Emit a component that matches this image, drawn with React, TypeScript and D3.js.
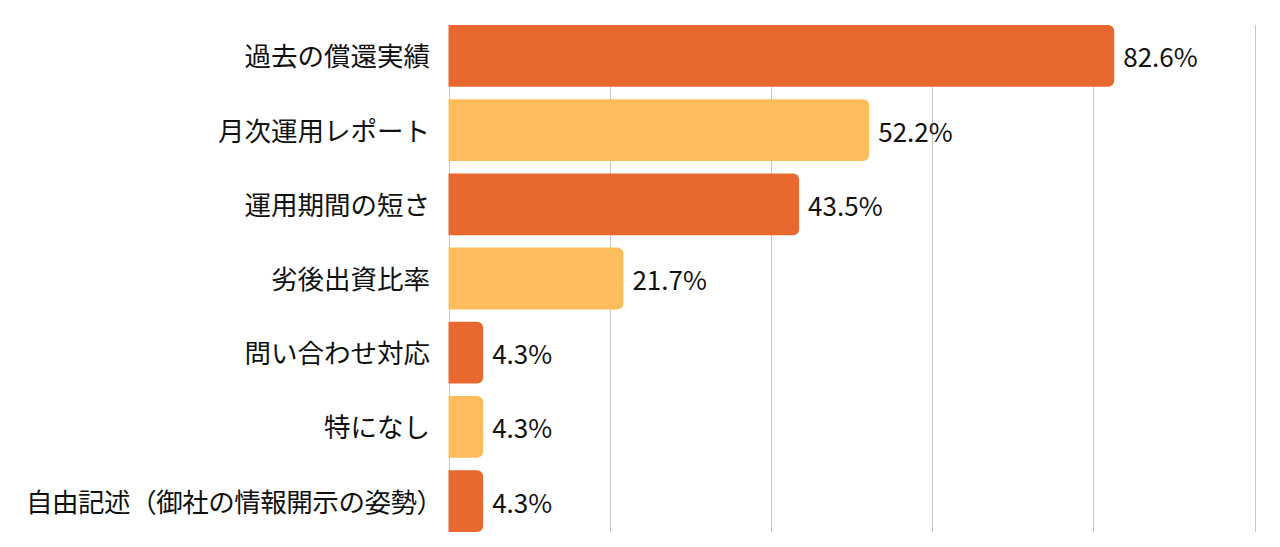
import React from "react";
import * as d3 from "d3";

const categories = [
  "過去の償還実績",
  "月次運用レポート",
  "運用期間の短さ",
  "劣後出資比率",
  "問い合わせ対応",
  "特になし",
  "自由記述（御社の情報開示の姿勢）",
];
const values = [82.6, 52.2, 43.5, 21.7, 4.3, 4.3, 4.3];
const xTicks = [0, 20, 40, 60, 80, 100];
const colors = ["#E9682F", "#FEBC5A"];

const W = 1280;
const H = 547;
const FONT = "'Noto Sans CJK JP', 'Noto Sans', sans-serif";

function barPath(x0: number, y: number, w: number, h: number, r: number) {
  const rr = Math.min(r, w / 2, h / 2);
  const p = d3.path();
  p.moveTo(x0, y);
  p.lineTo(x0 + w - rr, y);
  p.arcTo(x0 + w, y, x0 + w, y + rr, rr);
  p.lineTo(x0 + w, y + h - rr);
  p.arcTo(x0 + w, y + h, x0 + w - rr, y + h, rr);
  p.lineTo(x0, y + h);
  p.closePath();
  return p.toString();
}

export default function App() {
  const x = d3.scaleLinear().domain([0, 100]).range([448.5, 1254.5]);
  const y = d3
    .scaleBand<string>()
    .domain(categories)
    .range([25, 532])
    .paddingInner(0.166)
    .paddingOuter(0);
  const bh = y.bandwidth();

  return (
    <svg
      width={W}
      height={H}
      style={{ position: "absolute", left: 0, top: 0, background: "#fff" }}
      fontFamily={FONT}
    >
      {xTicks.map((t) => (
        <line
          key={t}
          x1={Math.round(x(t)) + 0.5}
          x2={Math.round(x(t)) + 0.5}
          y1={25}
          y2={532}
          stroke="#c8c8c8"
          strokeWidth={1}
        />
      ))}
      {categories.map((c, i) => {
        const y0 = y(c)!;
        const w = x(values[i]) - x(0);
        const long = c.length > 12;
        return (
          <g key={c}>
            <path d={barPath(x(0), y0, w, bh, 6)} fill={colors[i % 2]} />
            <text
              x={long ? 443 : 430}
              y={y0 + bh / 2 - 1}
              textAnchor="end"
              dominantBaseline="central"
              fontSize={26.5}
              fill="#111"
              textLength={long ? 417 : undefined}
              lengthAdjust={long ? "spacing" : undefined}
            >
              {c}
            </text>
            <text
              x={x(values[i]) + 9}
              y={y0 + bh / 2}
              dominantBaseline="central"
              fontSize={26}
              fill="#111"
            >
              {values[i].toFixed(1)}%
            </text>
          </g>
        );
      })}
    </svg>
  );
}
